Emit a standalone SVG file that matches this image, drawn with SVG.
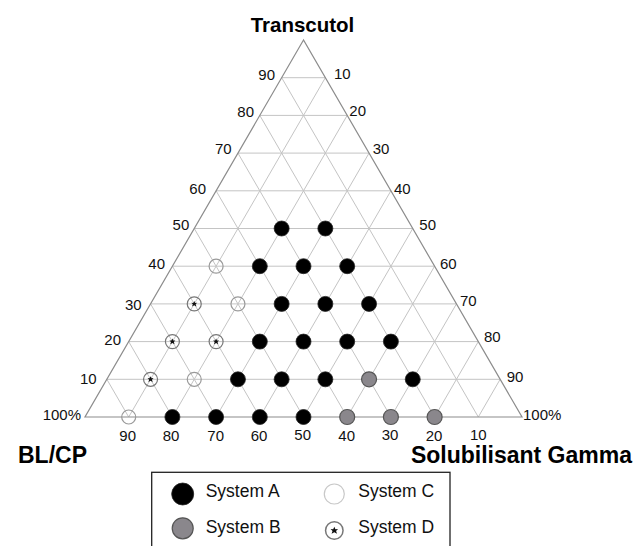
<svg xmlns="http://www.w3.org/2000/svg" xmlns:xlink="http://www.w3.org/1999/xlink" width="635" height="546" viewBox="0 0 635 546">
<style>
.bg{fill:#fff}
.grid{stroke:#c4c4c4;stroke-width:1;fill:none}
.frame{stroke:#8c8c8c;stroke-width:1.2;fill:none}
.lab{font-family:"Liberation Sans",Arial,sans-serif;font-size:15px;fill:#111}
.title{font-family:"Liberation Sans",Arial,sans-serif;font-weight:bold;fill:#000}
.leg{font-family:"Liberation Sans",Arial,sans-serif;font-size:17.5px;fill:#111}
.a{fill:#000;stroke:#222;stroke-width:0.8}
.b{fill:#8a878c;stroke:#555;stroke-width:1.2}
.c{fill:none;stroke:#9a9a9a;stroke-width:1.2}
.d{fill:none;stroke:#777;stroke-width:1.2}
.star{fill:#111}
</style>
<defs>
<circle id="pA" r="7.5" class="a"/>
<circle id="pB" r="7.5" class="b"/>
<circle id="pC" r="7" class="c"/>
<g id="pD"><circle r="7" class="d"/><polygon class="star" points="0,-3 0.9,-1 3,-1.2 1.4,0.4 2.2,2.6 0,1.4 -2.2,2.6 -1.4,0.4 -3,-1.2 -0.9,-1"/></g>
</defs>
<rect class="bg" x="0" y="0" width="635" height="546"/>

<g id="grid">
<g class="grid">
<line x1="106.85" y1="379.3" x2="500.15" y2="379.3"/>
<line x1="128.7" y1="341.6" x2="478.3" y2="341.6"/>
<line x1="150.55" y1="303.9" x2="456.45" y2="303.9"/>
<line x1="172.4" y1="266.2" x2="434.6" y2="266.2"/>
<line x1="194.25" y1="228.5" x2="412.75" y2="228.5"/>
<line x1="216.1" y1="190.8" x2="390.9" y2="190.8"/>
<line x1="237.95" y1="153.1" x2="369.05" y2="153.1"/>
<line x1="259.8" y1="115.4" x2="347.2" y2="115.4"/>
<line x1="281.65" y1="77.7" x2="325.35" y2="77.7"/>

<line x1="128.7" y1="417" x2="325.35" y2="77.7"/>
<line x1="172.4" y1="417" x2="347.2" y2="115.4"/>
<line x1="216.1" y1="417" x2="369.05" y2="153.1"/>
<line x1="259.8" y1="417" x2="390.9" y2="190.8"/>
<line x1="303.5" y1="417" x2="412.75" y2="228.5"/>
<line x1="347.2" y1="417" x2="434.6" y2="266.2"/>
<line x1="390.9" y1="417" x2="456.45" y2="303.9"/>
<line x1="434.6" y1="417" x2="478.3" y2="341.6"/>
<line x1="478.3" y1="417" x2="500.15" y2="379.3"/>

<line x1="128.7" y1="417" x2="106.85" y2="379.3"/>
<line x1="172.4" y1="417" x2="128.7" y2="341.6"/>
<line x1="216.1" y1="417" x2="150.55" y2="303.9"/>
<line x1="259.8" y1="417" x2="172.4" y2="266.2"/>
<line x1="303.5" y1="417" x2="194.25" y2="228.5"/>
<line x1="347.2" y1="417" x2="216.1" y2="190.8"/>
<line x1="390.9" y1="417" x2="237.95" y2="153.1"/>
<line x1="434.6" y1="417" x2="259.8" y2="115.4"/>
<line x1="478.3" y1="417" x2="281.65" y2="77.7"/>
</g>
<polygon class="frame" points="303.5,40 85,417 522,417"/>
</g>

<g id="axis-labels" class="lab">
<text x="275" y="79.7" text-anchor="end">90</text>
<text x="254" y="117.4" text-anchor="end">80</text>
<text x="231.7" y="154.4" text-anchor="end">70</text>
<text x="206" y="194.4" text-anchor="end">60</text>
<text x="189.3" y="230.4" text-anchor="end">50</text>
<text x="165" y="268.7" text-anchor="end">40</text>
<text x="141.7" y="310" text-anchor="end">30</text>
<text x="121" y="344.7" text-anchor="end">20</text>
<text x="96.7" y="384" text-anchor="end">10</text>
<text x="81" y="420" text-anchor="end">100%</text>

<text x="334" y="78.7">10</text>
<text x="349.3" y="116.4">20</text>
<text x="372.7" y="153.7">30</text>
<text x="394" y="193.7">40</text>
<text x="419.3" y="230.4">50</text>
<text x="440" y="269.4">60</text>
<text x="460" y="306.4">70</text>
<text x="484" y="342">80</text>
<text x="506.7" y="382">90</text>
<text x="523" y="419.5">100%</text>

<g text-anchor="middle">
<text x="127.7" y="441">90</text>
<text x="171" y="441">80</text>
<text x="215.7" y="441">70</text>
<text x="259" y="441">60</text>
<text x="302.7" y="439.5">50</text>
<text x="346.7" y="440.5">40</text>
<text x="390" y="440">30</text>
<text x="434" y="440.5">20</text>
<text x="478.3" y="440">10</text>
</g>
</g>

<g id="titles" class="title">
<text x="302.5" y="32" font-size="20.5" text-anchor="middle">Transcutol</text>
<text x="18" y="463" font-size="23">BL/CP</text>
<text x="632" y="463" font-size="23" text-anchor="end">Solubilisant Gamma</text>
</g>

<g id="points">
<use xlink:href="#pC" x="128.7" y="417"/>
<use xlink:href="#pA" x="172.4" y="417"/>
<use xlink:href="#pA" x="216.1" y="417"/>
<use xlink:href="#pA" x="259.8" y="417"/>
<use xlink:href="#pA" x="303.5" y="417"/>
<use xlink:href="#pB" x="347.2" y="417"/>
<use xlink:href="#pB" x="390.9" y="417"/>
<use xlink:href="#pB" x="434.6" y="417"/>

<use xlink:href="#pD" x="150.55" y="379.3"/>
<use xlink:href="#pC" x="194.25" y="379.3"/>
<use xlink:href="#pA" x="237.95" y="379.3"/>
<use xlink:href="#pA" x="281.65" y="379.3"/>
<use xlink:href="#pA" x="325.35" y="379.3"/>
<use xlink:href="#pB" x="369.05" y="379.3"/>
<use xlink:href="#pA" x="412.75" y="379.3"/>

<use xlink:href="#pD" x="172.4" y="341.6"/>
<use xlink:href="#pD" x="216.1" y="341.6"/>
<use xlink:href="#pA" x="259.8" y="341.6"/>
<use xlink:href="#pA" x="303.5" y="341.6"/>
<use xlink:href="#pA" x="347.2" y="341.6"/>
<use xlink:href="#pA" x="390.9" y="341.6"/>

<use xlink:href="#pD" x="194.25" y="303.9"/>
<use xlink:href="#pC" x="237.95" y="303.9"/>
<use xlink:href="#pA" x="281.65" y="303.9"/>
<use xlink:href="#pA" x="325.35" y="303.9"/>
<use xlink:href="#pA" x="369.05" y="303.9"/>

<use xlink:href="#pC" x="216.1" y="266.2"/>
<use xlink:href="#pA" x="259.8" y="266.2"/>
<use xlink:href="#pA" x="303.5" y="266.2"/>
<use xlink:href="#pA" x="347.2" y="266.2"/>

<use xlink:href="#pA" x="281.65" y="228.5"/>
<use xlink:href="#pA" x="325.35" y="228.5"/>
</g>

<g id="legend">
<rect x="151.7" y="472.3" width="298.3" height="90" fill="#fff" stroke="#222" stroke-width="1.3"/>
<circle cx="182.7" cy="494" r="11" class="a"/>
<circle cx="182.7" cy="528.3" r="10.5" class="b"/>
<circle cx="334.3" cy="494" r="10" fill="none" stroke="#c8c8c8" stroke-width="1.2"/>
<g transform="translate(334.3,530.5) scale(1.25)"><circle r="7" class="d"/><polygon class="star" points="0,-3 0.9,-1 3,-1.2 1.4,0.4 2.2,2.6 0,1.4 -2.2,2.6 -1.4,0.4 -3,-1.2 -0.9,-1"/></g>
<text class="leg" x="205.7" y="497.3">System A</text>
<text class="leg" x="205.7" y="533.3">System B</text>
<text class="leg" x="358.3" y="497.3">System C</text>
<text class="leg" x="358.3" y="533.3">System D</text>
</g>
</svg>
